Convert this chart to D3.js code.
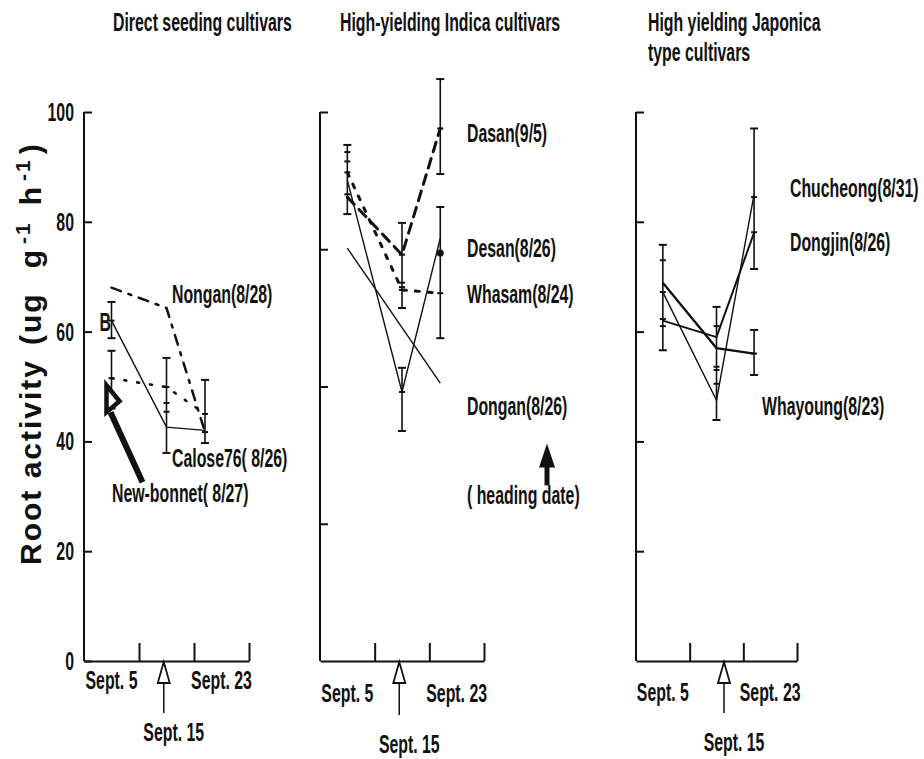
<!DOCTYPE html>
<html>
<head>
<meta charset="utf-8">
<script src="https://cdn.jsdelivr.net/npm/d3@7"></script>
<style>
  body { margin: 0; background: #fff; }
  svg { display: block; }
  .cond { font-family: "Liberation Sans", Arial, sans-serif; font-weight: bold; font-size: 26px; fill: #111; }
  .axis path, .axis line { stroke: #111; stroke-width: 2; }
  .axis text { display: none; }
</style>
</head>
<body>
<svg id="chart" width="924" height="759"></svg>
<script>
// ---- data -------------------------------------------------------------
// sampling days, counted from Aug 31
const sampleDays = [5, 15, 22];
const xTickDays = [10, 20, 30];
const yTicksDirect = [0, 20, 40, 60, 80, 100];
const yTicksIndica = [25, 50, 75, 100];
const yTicksJaponica = [20, 40, 60, 80, 100];
const dateLabels = ["Sept. 5", "Sept. 15", "Sept. 23"];
const dateLabelDays = [5, 25];

const titlesDirect = ["Direct seeding cultivars"];
const titlesIndica = ["High-yielding  Indica cultivars"];
const titlesJaponica = ["High yielding Japonica", "type cultivars"];

// Direct seeding cultivars (root activity, ug g-1 h-1)
const nonganValues = [68, 64.3, 41.7];
const caloseValues = [62, 42.6, 42];
const newBonnetValues = [51.5, 49.9, 45];
const directBars = [
  { day: 5, lo: 58.8, hi: 65.4, marks: [62] },
  { day: 5, lo: 46, hi: 56.5, marks: [51.5] },
  { day: 15, lo: 37.9, hi: 55.2, marks: [49.9, 47, 45.4] },
  { day: 22, lo: 39.7, hi: 51.2, marks: [45, 41.7] }
];

// High-yielding Indica cultivars
const dasanValues = [84.5, 74, 97];
const desanValues = [87.6, 49, 77];
const whasamValues = [89, 67.6, 67];
const donganValues = [75.2, null, 50.6];
const indicaBars = [
  { day: 5, lo: 81.4, hi: 94, marks: [92.7, 91, 89, 85] },
  { day: 15, lo: 64.3, hi: 79.8, marks: [74, 68.9, 68.1, 67.6] },
  { day: 15, lo: 41.9, hi: 53.4, marks: [49] },
  { day: 22, lo: 88.7, hi: 106, marks: [97] },
  { day: 22, lo: 58.8, hi: 82.7, marks: [67] }
];
const indicaDots = [{ day: 22, value: 74.3 }];

// High yielding Japonica type cultivars
const chucheongValues = [67.2, 47.5, 85];
const dongjinValues = [62, 59, 78];
const whayoungValues = [68.9, 57, 56];
const japonicaBars = [
  { day: 5, lo: 56.6, hi: 75.8, marks: [73, 67.2, 62.3, 61] },
  { day: 15, lo: 43.9, hi: 64.5, marks: [61, 53.6, 53, 50.5] },
  { day: 22, lo: 71.4, hi: 97, marks: [84.5, 78.1] },
  { day: 22, lo: 52.1, hi: 60.3, marks: [56] }
];

// ---- layout -----------------------------------------------------------
const svg = d3.select("#chart");
const y = d3.scaleLinear().domain([0, 100]).range([661, 112]);
const SX = 0.61; // horizontal squeeze for the condensed lettering

const styles = {
  dashDot: { width: 2.5, dash: "10,8,3,8" },
  longDash: { width: 3, dash: "10,7" },
  dotted: { width: 2.6, dash: "2,11" },
  dottedBold: { width: 3, dash: "4,9" },
  thin: { width: 1.4, dash: null },
  medium: { width: 2, dash: null },
  thick: { width: 2.3, dash: null }
};

const panels = [
  {
    left: 84, right: 249, ticks: yTicksDirect, labelled: true, titles: titlesDirect,
    titleX: 113, arrowDay: 14.5, dateY: 689, sept15Y: 741, stemEnd: 713,
    series: [
      { name: "Nongan(8/28)", values: nonganValues, style: "dashDot", lx: 172, ly: 303 },
      { name: "Calose76( 8/26)", values: caloseValues, style: "thin", lx: 172, ly: 467 },
      { name: "New-bonnet( 8/27)", values: newBonnetValues, style: "dotted", lx: 112, ly: 502 }
    ],
    bars: directBars, dots: []
  },
  {
    left: 320, right: 484, ticks: yTicksIndica, labelled: false, titles: titlesIndica,
    titleX: 340, arrowDay: 14.5, dateY: 702, sept15Y: 753, stemEnd: 715,
    series: [
      { name: "Dasan(9/5)", values: dasanValues, style: "longDash", lx: 467, ly: 142 },
      { name: "Desan(8/26)", values: desanValues, style: "thin", lx: 467, ly: 257 },
      { name: "Whasam(8/24)", values: whasamValues, style: "dottedBold", lx: 467, ly: 303 },
      { name: "Dongan(8/26)", values: donganValues, style: "thin", lx: 467, ly: 415 }
    ],
    bars: indicaBars, dots: indicaDots
  },
  {
    left: 636, right: 797, ticks: yTicksJaponica, labelled: false, titles: titlesJaponica,
    titleX: 648, arrowDay: 16.4, dateY: 701, sept15Y: 751, stemEnd: 713,
    series: [
      { name: "Chucheong(8/31)", values: chucheongValues, style: "thin", lx: 790, ly: 197 },
      { name: "Dongjin(8/26)", values: dongjinValues, style: "medium", lx: 790, ly: 251 },
      { name: "Whayoung(8/23)", values: whayoungValues, style: "thick", lx: 762, ly: 415 }
    ],
    bars: japonicaBars, dots: []
  }
];

function ctext(g, str, x, yy, anchor) {
  return g.append("text")
    .attr("class", "cond")
    .attr("text-anchor", anchor || "start")
    .attr("transform", `translate(${x},${yy}) scale(${SX},1)`)
    .text(str);
}

panels.forEach(p => {
  const g = svg.append("g");
  const x = d3.scaleLinear().domain([0, 30]).range([p.left, p.right]);

  // y axis, ticks pointing into the plot
  g.append("g").attr("class", "axis")
    .attr("transform", `translate(${p.left},0)`)
    .call(d3.axisLeft(y).tickValues(p.ticks).tickSizeInner(-8).tickSizeOuter(0))
    .select(".domain").attr("d", `M0,${y(0)}V${y(100)}`);

  if (p.labelled) {
    p.ticks.forEach(t => ctext(g, String(t), p.left - 10, y(t) + 9, "end"));
  }

  // x axis with upward ticks
  g.append("g").attr("class", "axis")
    .attr("transform", `translate(0,${y(0)})`)
    .call(d3.axisBottom(x).tickValues(xTickDays).tickSizeInner(-18).tickSizeOuter(0));

  // date labels
  ctext(g, dateLabels[0], x(dateLabelDays[0]), p.dateY, "middle");
  ctext(g, dateLabels[2], x(dateLabelDays[1]), p.dateY, "middle");
  ctext(g, dateLabels[1], x(p.arrowDay) + 10, p.sept15Y, "middle");

  // open arrow marking Sept. 15
  const ax = x(p.arrowDay), ay = y(0);
  g.append("path")
    .attr("d", `M${ax},${ay + 1}L${ax - 6},${ay + 22}L${ax + 6},${ay + 22}Z`)
    .attr("fill", "#fff").attr("stroke", "#111").attr("stroke-width", 1.8);
  g.append("line")
    .attr("x1", ax).attr("x2", ax).attr("y1", ay + 22).attr("y2", p.stemEnd)
    .attr("stroke", "#111").attr("stroke-width", 1.5);

  // titles
  p.titles.forEach((t, i) => ctext(g, t, p.titleX, 31 + i * 30));

  // error bars
  p.bars.forEach(b => {
    const bx = x(b.day);
    g.append("line").attr("x1", bx).attr("x2", bx)
      .attr("y1", y(b.lo)).attr("y2", y(b.hi))
      .attr("stroke", "#111").attr("stroke-width", 1.6);
    [b.lo, b.hi].forEach(v => g.append("line")
      .attr("x1", bx - 4).attr("x2", bx + 4).attr("y1", y(v)).attr("y2", y(v))
      .attr("stroke", "#111").attr("stroke-width", 2));
    b.marks.forEach(v => g.append("line")
      .attr("x1", bx - 3).attr("x2", bx + 3).attr("y1", y(v)).attr("y2", y(v))
      .attr("stroke", "#111").attr("stroke-width", 2));
  });

  // series lines
  const line = d3.line()
    .defined(d => d.value != null)
    .x(d => x(d.day)).y(d => y(d.value));
  p.series.forEach(s => {
    const pts = sampleDays.map((d, i) => ({ day: d, value: s.values[i] }));
    const st = styles[s.style];
    g.append("path")
      .datum(pts.filter(d => d.value != null))
      .attr("d", line)
      .attr("fill", "none")
      .attr("stroke", "#111")
      .attr("stroke-width", st.width)
      .attr("stroke-linecap", st.dash ? "round" : "butt")
      .attr("stroke-dasharray", st.dash);
    ctext(g, s.name, s.lx, s.ly);
  });

  p.dots.forEach(d => g.append("circle")
    .attr("cx", x(d.day)).attr("cy", y(d.value)).attr("r", 3.5).attr("fill", "#111"));

  p.x = x;
});

// "B" tag beside the Calose76 start point
ctext(svg, "B", panels[0].x(5) - 12, y(caloseValues[0]) + 10);

// pointer to the New-bonnet start point (open triangle marker + heavy shaft)
{
  const px = panels[0].x(5), py = y(47.5);
  svg.append("path")
    .attr("d", `M${px - 5},${py - 15}L${px + 8},${py + 1}L${px - 5},${py + 12}Z`)
    .attr("fill", "#fff").attr("stroke", "#111").attr("stroke-width", 4.5)
    .attr("stroke-linejoin", "miter");
  svg.append("line")
    .attr("x1", px - 1).attr("y1", py + 12)
    .attr("x2", px + 31).attr("y2", py + 82)
    .attr("stroke", "#111").attr("stroke-width", 6);
}

// heading date arrow
{
  const hx = 547, top = y(40) + 2;
  svg.append("path")
    .attr("d", `M${hx},${top}L${hx - 8},${top + 24}L${hx + 8},${top + 24}Z`)
    .attr("fill", "#111");
  svg.append("line")
    .attr("x1", hx).attr("x2", hx).attr("y1", top + 20).attr("y2", top + 42)
    .attr("stroke", "#111").attr("stroke-width", 5);
  ctext(svg, "( heading date)", 467, top + 61);
}

// y axis title, reading upward from its base point
{
  const t = svg.append("text")
    .attr("transform", "translate(41,565) rotate(-90)")
    .attr("text-anchor", "start")
    .style("font-family", "'Liberation Sans', Arial, sans-serif")
    .style("font-weight", "bold")
    .style("font-size", "30px")
    .style("letter-spacing", "2px")
    .attr("fill", "#111");
  t.append("tspan").text("Root activity");
  t.append("tspan").attr("dx", 14).text("(ug");
  t.append("tspan").attr("dx", 24).text("g");
  t.append("tspan").attr("dx", 4).attr("dy", -11).style("font-size", "21px").text("-1");
  t.append("tspan").attr("dx", 16).attr("dy", 11).text("h");
  t.append("tspan").attr("dx", 4).attr("dy", -11).style("font-size", "21px").text("-1");
  t.append("tspan").attr("dx", 4).attr("dy", 11).text(")");
}
</script>
</body>
</html>
